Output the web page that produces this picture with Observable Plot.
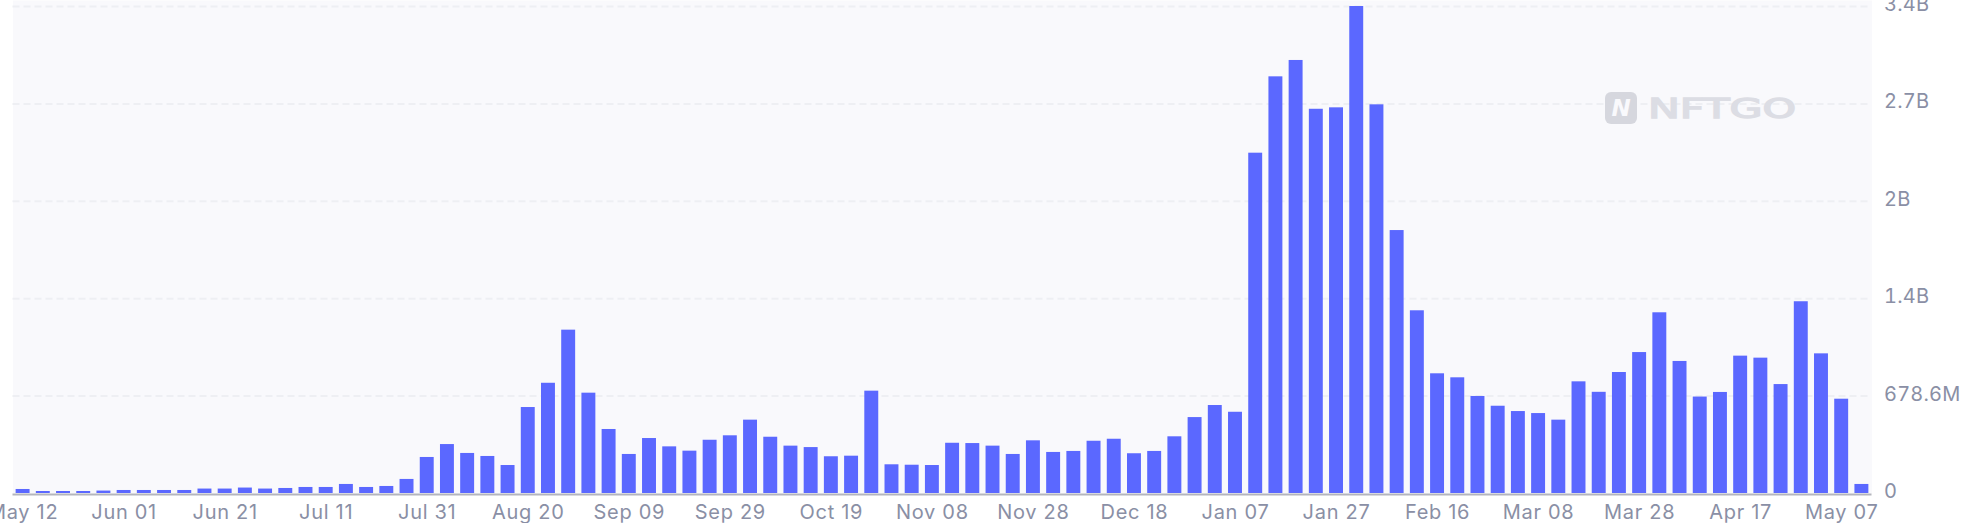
<!DOCTYPE html>
<html>
<head>
<meta charset="utf-8">
<script src="https://cdn.jsdelivr.net/npm/d3@7"></script>
<script src="https://cdn.jsdelivr.net/npm/@observablehq/plot@0.6"></script>
<style>
html,body{margin:0;padding:0;background:#fff;overflow:hidden}
#wrap{position:relative;width:1961px;height:523px}
#wm{position:absolute;left:0;top:0;pointer-events:none}
g[aria-label="x-axis tick label"]{letter-spacing:0.7px}
g[aria-label="y-axis tick label"]{letter-spacing:0.2px}
</style>
</head>
<body>
<div id="wrap"></div>
<script>
const dates = ["May 12","May 16","May 20","May 24","May 28","Jun 01","Jun 05","Jun 09","Jun 13","Jun 17","Jun 21","Jun 25","Jun 29","Jul 03","Jul 07","Jul 11","Jul 15","Jul 19","Jul 23","Jul 27","Jul 31","Aug 04","Aug 08","Aug 12","Aug 16","Aug 20","Aug 24","Aug 28","Sep 01","Sep 05","Sep 09","Sep 13","Sep 17","Sep 21","Sep 25","Sep 29","Oct 03","Oct 07","Oct 11","Oct 15","Oct 19","Oct 23","Oct 27","Oct 31","Nov 04","Nov 08","Nov 12","Nov 16","Nov 20","Nov 24","Nov 28","Dec 02","Dec 06","Dec 10","Dec 14","Dec 18","Dec 22","Dec 26","Dec 30","Jan 03","Jan 07","Jan 11","Jan 15","Jan 19","Jan 23","Jan 27","Jan 31","Feb 04","Feb 08","Feb 12","Feb 16","Feb 20","Feb 24","Feb 28","Mar 04","Mar 08","Mar 12","Mar 16","Mar 20","Mar 24","Mar 28","Apr 01","Apr 05","Apr 09","Apr 13","Apr 17","Apr 21","Apr 25","Apr 29","May 03","May 07","May 11"];
const volumeM = [28,14,14,14,17,21,21,21,21,31,31,38,31,35,42,42,63,42,49,98,251,341,279,258,195,599,768,1138,699,446,272,383,325,295,371,402,511,392,330,320,256,260,713,200,197,195,350,348,330,272,367,286,293,364,378,277,293,395,529,613,566,2371,2903,3017,2677,2687,3393,2708,1832,1273,834,806,676,608,571,557,511,778,705,843,982,1259,920,672,704,957,943,759,1336,973,657,63];
const xTicks = ["May 12","Jun 01","Jun 21","Jul 11","Jul 31","Aug 20","Sep 09","Sep 29","Oct 19","Nov 08","Nov 28","Dec 18","Jan 07","Jan 27","Feb 16","Mar 08","Mar 28","Apr 17","May 07"];
const yTicks = [0,678.6,1357.2,2035.8,2714.4,3393];
const yTickLabels = ["0","678.6M","1.4B","2B","2.7B","3.4B"];
const rows = dates.map((d,i)=>({date:d,value:volumeM[i]}));
const font = "Inter, sans-serif";
const textColor = "#8a8fa5";

const chart = Plot.plot({
  width:1961, height:523,
  marginTop:0, marginBottom:30, marginLeft:12.5, marginRight:89.5,
  style:{fontFamily:font, background:"#fff", fontWeight:400},
  x:{type:"band", domain:dates, range:[12.5,1871.5], paddingInner:0.31, paddingOuter:0.155, round:false, label:null},
  y:{domain:[0,3393], range:[493,6], label:null},
  marks:[
    Plot.frame({fill:"#f9f9fc", stroke:null}),
    Plot.ruleY(yTicks.slice(1),{stroke:"#eeeff3", strokeWidth:2, strokeDasharray:"7,4"}),
    Plot.barY(rows,{x:"date", y:"value", fill:"#5b68ff"}),
    Plot.ruleY([0],{stroke:"#b4b5bd", strokeWidth:2, dy:1}),
    Plot.axisX({ticks:xTicks, tickSize:0, tickPadding:11, fontSize:20, fill:textColor, label:null}),
    Plot.axisY({anchor:"right", ticks:yTicks, tickSize:0, tickPadding:12, fontSize:20, fill:textColor, dy:-2, label:null,
      tickFormat:v=>yTickLabels[yTicks.indexOf(v)]})
  ]
});
document.getElementById("wrap").appendChild(chart);

const wm = d3.select("#wrap").append("svg").attr("id","wm").attr("width",1961).attr("height",523);
wm.append("rect").attr("x",1605).attr("y",92).attr("width",32).attr("height",32).attr("rx",6).attr("fill","#d6d7de");
wm.append("text").attr("x",1621).attr("y",116).attr("text-anchor","middle").attr("font-family","DejaVu Sans").attr("font-weight",700).attr("font-style","italic").attr("font-size",23).attr("fill","#f9f9fc").text("N");
wm.append("text").attr("x",1648).attr("y",118).attr("font-family","DejaVu Sans").attr("font-weight",400).attr("font-size",27).attr("textLength",148).attr("lengthAdjust","spacingAndGlyphs").attr("fill","#dcdde4").attr("stroke","#dcdde4").attr("stroke-width",1.4).text("NFTGO");
</script>
</body>
</html>
